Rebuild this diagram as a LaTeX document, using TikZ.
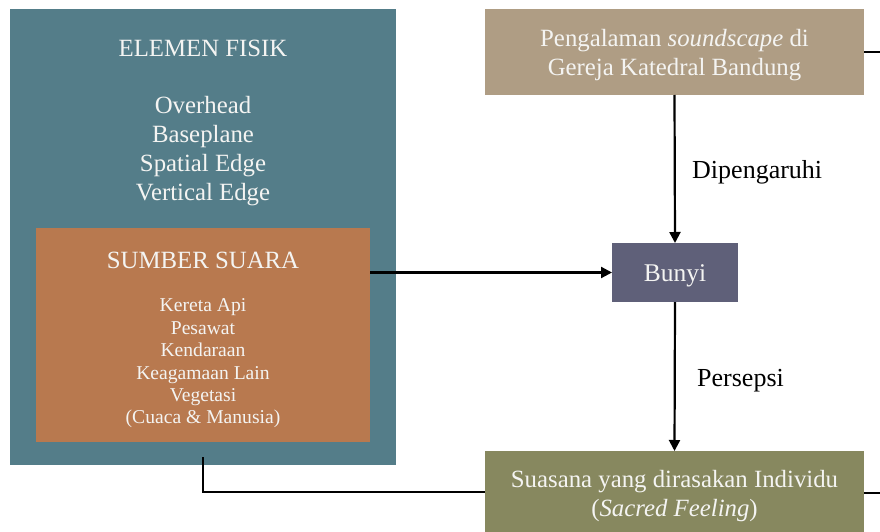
\documentclass[tikz,border=0pt]{standalone}
\usepackage{fontspec}
\setmainfont{Liberation Serif}
\usetikzlibrary{arrows.meta}
\definecolor{tealbox}{HTML}{547D89}
\definecolor{orangebox}{HTML}{B8794F}
\definecolor{tanbox}{HTML}{AF9D84}
\definecolor{bunyibox}{HTML}{5F6079}
\definecolor{olivebox}{HTML}{87885F}
\definecolor{txtwhite}{HTML}{F4F4F2}
\tikzset{
  boxshape/.style={rectangle, inner sep=0pt, outer sep=0pt, draw=none},
  wtxt/.style={text=txtwhite, align=center, inner sep=0pt},
  bigf/.style={font=\fontsize{24.8}{29}\selectfont},
  smallf/.style={font=\fontsize{19.6}{22.4}\selectfont},
  lbl/.style={text=black, inner sep=0pt, font=\fontsize{26}{30}\selectfont},
  conn/.style={line width=2.2pt, draw=black},
  arr/.style={conn, -{Triangle[length=11pt,width=11pt]}}
}
\begin{document}
\begin{tikzpicture}[x=1pt,y=-1pt]
\useasboundingbox (0,0) rectangle (880,532);
% boxes
\node[boxshape, fill=tealbox, minimum width=386pt, minimum height=456pt] (teal) at (203,237) {};
\node[boxshape, fill=orangebox, minimum width=334pt, minimum height=214pt] (orange) at (203,335) {};
\node[boxshape, fill=tanbox, minimum width=379pt, minimum height=86pt] (tan) at (674.5,52) {};
\node[boxshape, fill=bunyibox, minimum width=126pt, minimum height=59pt] (bunyi) at (675,272.5) {};
\node[boxshape, fill=olivebox, minimum width=379pt, minimum height=82pt] (olive) at (674.5,492) {};
% texts
\node[wtxt, bigf] (ef) at (203,48.5) {ELEMEN FISIK};
\node[wtxt, bigf] (eflist) at (203,151) {Overhead\\Baseplane\\Spatial Edge\\Vertical Edge};
\node[wtxt, bigf] (ss) at (203,260) {SUMBER SUARA};
\node[wtxt, smallf] (sslist) at (203,363.5) {Kereta Api\\Pesawat\\Kendaraan\\Keagamaan Lain\\Vegetasi\\(Cuaca \& Manusia)};
\node[wtxt, bigf] (tantxt) at (674.5,55) {Pengalaman \textit{soundscape} di\\Gereja Katedral Bandung};
\node[wtxt, font=\fontsize{25.5}{29}\selectfont] (bunyitxt) at (675,275.5) {Bunyi};
\node[wtxt, bigf] (olivetxt) at (674.5,496.5) {Suasana yang dirasakan Individu\\(\textit{Sacred Feeling})};
\node[lbl, anchor=west] (dip) at (692,172) {Dipengaruhi};
\node[lbl, anchor=west] (pers) at (697,380.5) {Persepsi};
% connectors
\coordinate (tanout) at (880,52);
\coordinate (oliveout) at (880,493);
\coordinate (tealin) at (203,457);
\draw[conn] (tan.east) -- (tanout);
\draw[conn] (olive.east |- oliveout) -- (oliveout);
\draw[arr] (tan.south) -- (bunyi.north);
\draw[arr] (orange.east |- bunyi.west) -- (bunyi.west);
\draw[arr] (bunyi.south) -- (olive.north);
\draw[conn] (tealin) |- (olive.west);
\end{tikzpicture}
\end{document}
